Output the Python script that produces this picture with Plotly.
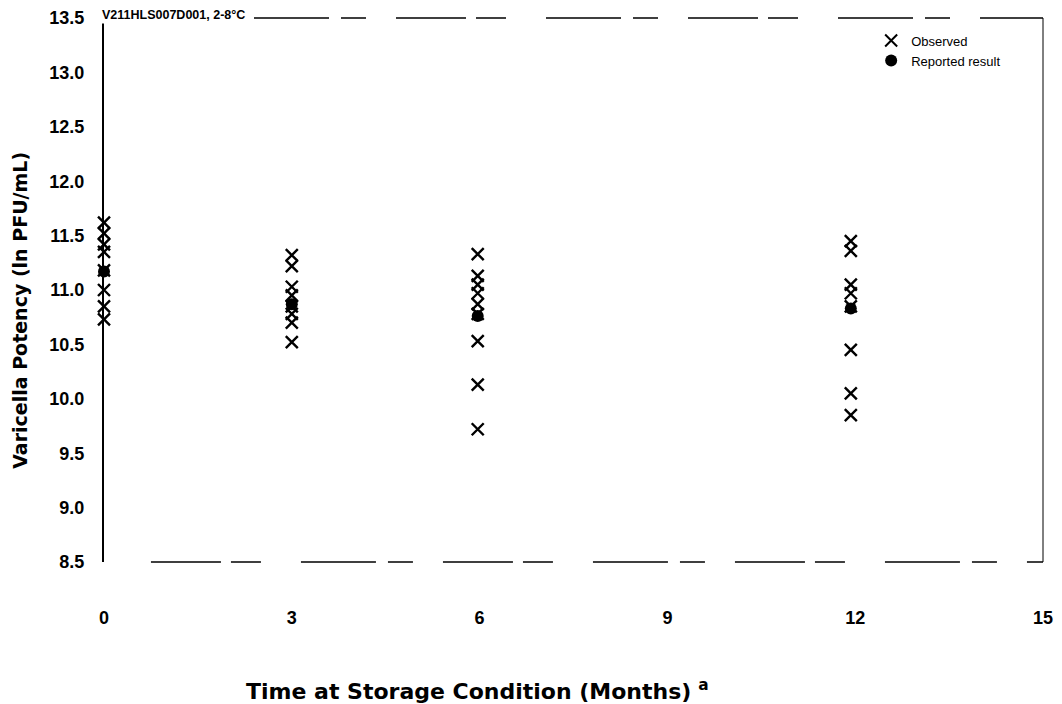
import plotly.graph_objects as go

# Data
obs_x0 = [0, 0, 0, 0, 0, 0, 0, 0]
obs_y0 = [11.62, 11.52, 11.42, 11.35, 11.18, 11.0, 10.85, 10.73]
obs_x3 = [3, 3, 3, 3, 3, 3, 3, 3]
obs_y3 = [11.32, 11.22, 11.03, 10.95, 10.85, 10.78, 10.70, 10.52]
obs_x6 = [5.97] * 9
obs_y6 = [11.33, 11.13, 11.05, 10.97, 10.87, 10.78, 10.53, 10.13, 9.72]
obs_x12 = [11.93] * 8
obs_y12 = [11.45, 11.36, 11.05, 10.97, 10.85, 10.45, 10.05, 9.85]

rep_x = [0, 3, 5.97, 11.93]
rep_y = [11.17, 10.87, 10.76, 10.83]

x_ticks = [0, 3, 6, 9, 12, 15]
y_ticks = [8.5, 9.0, 9.5, 10.0, 10.5, 11.0, 11.5, 12.0, 12.5, 13.0, 13.5]

obs_x = obs_x0 + obs_x3 + obs_x6 + obs_x12
obs_y = obs_y0 + obs_y3 + obs_y6 + obs_y12

FONT = "Liberation Sans"
WIDE = "DejaVu Sans"

fig = go.Figure()
fig.add_trace(go.Scatter(
    x=obs_x, y=obs_y, mode="markers", name="Observed", cliponaxis=False,
    marker=dict(symbol="x-thin-open", size=12, color="black",
                line=dict(width=2.4, color="black")),
))
fig.add_trace(go.Scatter(
    x=rep_x, y=rep_y, mode="markers", name="Reported result", cliponaxis=False,
    marker=dict(symbol="circle", size=12, color="black"),
))

border = dict(color="black", width=1.6, dash="70px,10px,30px,40px,75px,12px,25px,30px")
fig.update_layout(
    width=1062, height=704,
    margin=dict(l=96, r=27, t=10, b=150, autoexpand=False),
    paper_bgcolor="white", plot_bgcolor="white",
    font=dict(family=FONT, color="black"),
    showlegend=True,
    legend=dict(x=0.817, y=0.986, xanchor="left", yanchor="top",
                bgcolor="rgba(0,0,0,0)", font=dict(size=13, family=FONT),
                itemsizing="constant"),
    annotations=[
        dict(text="<b>V211HLS007D001, 2-8°C</b>",
             xref="paper", yref="paper",
             x=-0.004, y=1.0, xanchor="left", yanchor="middle", yshift=3,
             bgcolor="white", showarrow=False,
             font=dict(size=12.5, family=FONT)),
        dict(text="<b>Time at Storage Condition (Months)</b> <sup><b>a</b></sup>",
             xref="paper", yref="paper", x=0.398, y=-0.235,
             xanchor="center", yanchor="middle", showarrow=False,
             font=dict(size=22, family=WIDE)),
        dict(text="<b>Varicella Potency (ln PFU/mL)</b>",
             xref="paper", yref="paper", x=-0.0895, y=0.4635, textangle=-90,
             xanchor="center", yanchor="middle", showarrow=False,
             font=dict(size=19, family=WIDE)),
    ],
    shapes=[
        dict(type="line", xref="paper", yref="paper", x0=0.0, x1=1, y0=1, y1=1,
             line=border, layer="below"),
        dict(type="line", xref="paper", yref="paper", x0=0.05, x1=1, y0=0, y1=0,
             line=border, layer="below"),
        dict(type="line", xref="paper", yref="paper", x0=1, x1=1, y0=0, y1=1,
             line=dict(color="black", width=1), layer="below"),
    ],
)

fig.update_xaxes(
    range=[0, 15], tickvals=x_ticks, ticktext=[f"<b>{v}</b>" for v in x_ticks],
    showgrid=False, zeroline=False, automargin=False,
    showline=False, ticks="", ticklabelstandoff=43,
    tickfont=dict(size=18, family=FONT),
)
fig.update_yaxes(
    range=[8.5, 13.5], tickvals=y_ticks, ticktext=[f"<b>{v:.1f}</b>" for v in y_ticks],
    showgrid=False, zeroline=False, automargin=False,
    showline=True, linecolor="black", linewidth=2, mirror=False,
    ticks="", ticklabelstandoff=14,
    tickfont=dict(size=18, family=FONT),
)

fig.write_html("out.html")
